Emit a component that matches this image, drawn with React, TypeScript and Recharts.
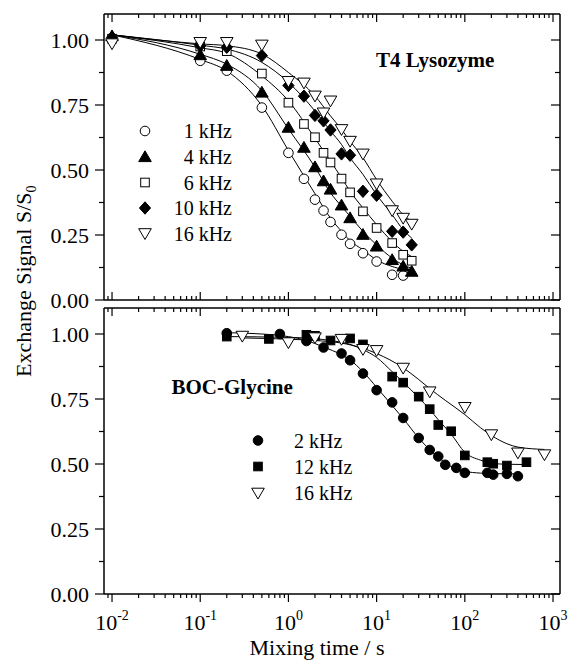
import React from 'react';
import { ComposedChart, Scatter, Line, XAxis, YAxis } from 'recharts';

const FONT = '"Liberation Serif", "Times New Roman", Times, serif';

// ---------- axis ranges & ticks ----------
const XMIN = 0.00811;
const XMAX = 1200;
const xDecades = [0.01, 0.1, 1, 10, 100, 1000];
const xDecadeExp = ['-2', '-1', '0', '1', '2', '3'];
const xMinorMult = [2, 3, 4, 5, 6, 7, 8, 9];
const xMinorBases = [0.001, 0.01, 0.1, 1, 10, 100];
const yMajor = [0, 0.25, 0.5, 0.75, 1.0];
const yMinor = [0.125, 0.375, 0.625, 0.875];
const yLabels = ['0.00', '0.25', '0.50', '0.75', '1.00'];

// ---------- T4 Lysozyme (top panel) ----------
const t4Time = [0.01, 0.1, 0.2, 0.5, 1, 1.5, 2, 2.5, 3, 4, 5, 7, 10, 15, 20, 25];
const t4_1k = [1.005, 0.92, 0.882, 0.74, 0.566, 0.466, 0.386, 0.344, 0.3, 0.251, 0.216, 0.18, 0.148, 0.097, 0.094, null];
const t4_4k = [1.015, 0.942, 0.901, 0.798, 0.663, 0.586, 0.511, 0.457, 0.425, 0.364, 0.315, 0.251, 0.206, 0.154, 0.129, 0.109];
const t4_6k = [1.005, 0.975, 0.957, 0.871, 0.759, 0.677, 0.626, 0.566, 0.529, 0.467, 0.414, 0.341, 0.277, 0.219, 0.174, 0.151];
const t4_10k = [1.01, 0.978, 0.972, 0.94, 0.825, 0.784, 0.71, 0.689, 0.654, 0.562, 0.557, 0.418, 0.403, 0.264, 0.261, 0.212];
const t4_16k = [0.986, 0.991, 0.991, 0.981, 0.841, 0.835, 0.785, 0.72, 0.766, 0.656, 0.611, 0.562, 0.447, 0.344, 0.315, 0.292];

const t4FitTime = [0.01, 0.1, 0.2, 0.5, 1, 2, 3, 4, 5, 7, 10, 15, 20, 25];
const t4Fit_1k = [1.02, 0.925, 0.881, 0.747, 0.575, 0.409, 0.315, 0.264, 0.228, 0.193, 0.154, 0.129, 0.118, 0.116];
const t4Fit_4k = [1.02, 0.945, 0.907, 0.805, 0.658, 0.511, 0.412, 0.36, 0.322, 0.264, 0.212, 0.161, 0.135, 0.122];
const t4Fit_6k = [1.02, 0.97, 0.949, 0.862, 0.766, 0.622, 0.534, 0.47, 0.418, 0.354, 0.29, 0.225, 0.187, 0.167];
const t4Fit_10k = [1.02, 0.98, 0.965, 0.914, 0.837, 0.727, 0.65, 0.598, 0.547, 0.483, 0.405, 0.328, 0.27, 0.238];
const t4Fit_16k = [1.02, 0.985, 0.978, 0.946, 0.875, 0.785, 0.708, 0.656, 0.611, 0.547, 0.463, 0.38, 0.328, 0.302];

// ---------- BOC-Glycine (bottom panel) ----------
const boc2kTime = [0.2, 0.8, 1.6, 2.5, 4, 5, 7, 10, 15, 20, 30, 40, 50, 60, 80, 100, 180, 210, 300, 400];
const boc2k = [1.003, 1.0, 0.973, 0.948, 0.925, 0.899, 0.848, 0.784, 0.737, 0.677, 0.6, 0.554, 0.529, 0.497, 0.485, 0.466, 0.466, 0.459, 0.462, 0.453];
const boc12kTime = [0.2, 0.6, 1.6, 2, 3, 5, 7, 15, 20, 30, 40, 50, 70, 100, 180, 210, 300, 500];
const boc12k = [0.99, 0.981, 0.997, 0.993, 0.975, 0.983, 0.96, 0.836, 0.813, 0.759, 0.711, 0.65, 0.626, 0.533, 0.507, 0.501, 0.494, 0.507];
const boc16kTime = [0.3, 1, 2, 4, 7, 10, 20, 40, 100, 200, 400, 800];
const boc16k = [0.992, 0.967, 0.986, 0.98, 0.941, 0.937, 0.869, 0.778, 0.718, 0.613, 0.543, 0.536];

const bocFit2kTime = [0.2, 0.5, 1, 1.6, 2.5, 4, 5, 7, 10, 15, 20, 30, 40, 50, 70, 100, 150, 200, 400];
const bocFit2k = [1.005, 1.0, 0.99, 0.975, 0.95, 0.92, 0.9, 0.855, 0.795, 0.725, 0.675, 0.6, 0.555, 0.525, 0.49, 0.472, 0.465, 0.463, 0.462];
const bocFit12kTime = [0.2, 1, 2, 3, 5, 7, 10, 15, 20, 30, 40, 50, 70, 100, 150, 200, 300, 500];
const bocFit12k = [0.99, 0.987, 0.982, 0.975, 0.96, 0.94, 0.91, 0.855, 0.815, 0.755, 0.71, 0.67, 0.615, 0.545, 0.515, 0.503, 0.499, 0.498];
const bocFit16kTime = [0.3, 1, 2, 4, 7, 10, 20, 30, 40, 60, 100, 150, 200, 300, 400, 800];
const bocFit16k = [0.985, 0.98, 0.975, 0.965, 0.945, 0.925, 0.87, 0.825, 0.79, 0.745, 0.69, 0.64, 0.61, 0.578, 0.565, 0.556];

const topLegend = ['1 kHz', '4 kHz', '6 kHz', '10 kHz', '16 kHz'];
const bottomLegend = ['2 kHz', '12 kHz', '16 kHz'];

// ---------- helpers ----------
const zip = (xs: number[], ys: (number | null)[]) =>
  xs.map((x, i) => ({ x, y: ys[i] })).filter((p) => p.y !== null && p.y !== undefined);

const xTicks = [
  ...xDecades,
  ...xMinorBases.flatMap((b) => xMinorMult.map((m) => +(b * m).toPrecision(3))),
]
  .filter((v) => v > XMIN && v < XMAX)
  .sort((a, b) => a - b);
const yTicks = [...yMajor, ...yMinor].sort((a, b) => a - b);

const isMajorX = (v: number) => xDecades.some((d) => Math.abs(d - v) / d < 1e-6);
const isMajorY = (v: number) => yMajor.some((d) => Math.abs(d - v) < 1e-6);

type Kind = 'circleOpen' | 'triUp' | 'squareOpen' | 'diamond' | 'triDownOpen' | 'circleFilled' | 'squareFilled';

const Marker = ({ kind, cx, cy }: { kind: Kind; cx: number; cy: number }) => {
  if (cx == null || cy == null || isNaN(cx) || isNaN(cy)) return null;
  const sw = 1;
  switch (kind) {
    case 'circleOpen':
      return <circle cx={cx} cy={cy} r={4.8} fill="#fff" stroke="#000" strokeWidth={sw} />;
    case 'circleFilled':
      return <circle cx={cx} cy={cy} r={4.8} fill="#000" stroke="#000" strokeWidth={sw} />;
    case 'triUp':
      return (
        <polygon
          points={`${cx},${cy - 6.2} ${cx - 6.3},${cy + 4.6} ${cx + 6.3},${cy + 4.6}`}
          fill="#000"
          stroke="#000"
          strokeWidth={sw}
        />
      );
    case 'triDownOpen':
      return (
        <polygon
          points={`${cx - 6.3},${cy - 4.8} ${cx + 6.3},${cy - 4.8} ${cx},${cy + 6}`}
          fill="#fff"
          stroke="#000"
          strokeWidth={sw}
        />
      );
    case 'squareOpen':
      return <rect x={cx - 4.3} y={cy - 4.3} width={8.6} height={8.6} fill="#fff" stroke="#000" strokeWidth={sw} />;
    case 'squareFilled':
      return <rect x={cx - 4.3} y={cy - 4.3} width={8.6} height={8.6} fill="#000" stroke="#000" strokeWidth={sw} />;
    case 'diamond':
      return (
        <polygon
          points={`${cx},${cy - 6.2} ${cx + 5.6},${cy} ${cx},${cy + 6.2} ${cx - 5.6},${cy}`}
          fill="#000"
          stroke="#000"
          strokeWidth={sw}
        />
      );
  }
  return null;
};

const shapeOf = (kind: Kind) => (p: any) => <Marker kind={kind} cx={p.cx} cy={p.cy} />;

// X ticks: dir = +1 draws downward, -1 upward
const XTick = (props: any) => {
  const { x, y, payload, dir, showLabel } = props;
  const v = payload?.value;
  const major = isMajorX(v);
  const len = major ? 8 : 4;
  const idx = xDecades.findIndex((d) => Math.abs(d - v) / d < 1e-6);
  return (
    <g>
      <line x1={x} x2={x} y1={y} y2={y + dir * len} stroke="#000" strokeWidth={1.2} />
      {showLabel && major && idx >= 0 && (
        <text x={x} y={330} textAnchor="middle" fontFamily={FONT} fontSize={22} fill="#000">
          10
          <tspan dy={-10} fontSize={14}>
            {xDecadeExp[idx]}
          </tspan>
        </text>
      )}
    </g>
  );
};

// Y ticks: dir = -1 draws leftward, +1 rightward
const YTick = (props: any) => {
  const { x, y, payload, dir, showLabel } = props;
  const v = payload?.value;
  const major = isMajorY(v);
  const len = major ? 9 : 5;
  const idx = yMajor.findIndex((d) => Math.abs(d - v) < 1e-6);
  return (
    <g>
      <line x1={x} x2={x + dir * len} y1={y} y2={y} stroke="#000" strokeWidth={1.2} />
      {showLabel && major && idx >= 0 && (
        <text x={x - 15} y={y + 7.5} textAnchor="end" fontFamily={FONT} fontSize={22} fill="#000">
          {yLabels[idx]}
        </text>
      )}
    </g>
  );
};

const axisLine = { stroke: '#000', strokeWidth: 1.5 };

function panelAxes(bottomDir: number, bottomLabel: boolean) {
  return [
    <XAxis
      key="xb"
      xAxisId="b"
      orientation="bottom"
      dataKey="x"
      type="number"
      scale="log"
      domain={[XMIN, XMAX]}
      allowDataOverflow
      ticks={xTicks}
      interval={0}
      height={1}
      tickSize={0}
      tickMargin={0}
      tickLine={false}
      axisLine={axisLine}
      tick={(p: any) => <XTick {...p} dir={bottomDir} showLabel={bottomLabel} />}
    />,
    <XAxis
      key="xt"
      xAxisId="t"
      orientation="top"
      dataKey="x"
      type="number"
      scale="log"
      domain={[XMIN, XMAX]}
      allowDataOverflow
      ticks={xTicks}
      interval={0}
      height={1}
      tickSize={0}
      tickMargin={0}
      tickLine={false}
      axisLine={axisLine}
      tick={(p: any) => <XTick {...p} dir={1} showLabel={false} />}
    />,
    <YAxis
      key="yl"
      yAxisId="l"
      orientation="left"
      dataKey="y"
      type="number"
      domain={[0, 1.1]}
      allowDataOverflow
      ticks={yTicks}
      interval={0}
      width={1}
      tickSize={0}
      tickMargin={0}
      tickLine={false}
      axisLine={axisLine}
      tick={(p: any) => <YTick {...p} dir={-1} showLabel={true} />}
    />,
    <YAxis
      key="yr"
      yAxisId="r"
      orientation="right"
      dataKey="y"
      type="number"
      domain={[0, 1.1]}
      allowDataOverflow
      ticks={yTicks}
      interval={0}
      width={1}
      tickSize={0}
      tickMargin={0}
      tickLine={false}
      axisLine={axisLine}
      tick={(p: any) => <YTick {...p} dir={-1} showLabel={false} />}
    />,
  ];
}

const fitLine = (key: string, data: { x: number; y: any }[]) => (
  <Line
    key={key}
    xAxisId="b"
    yAxisId="l"
    data={data}
    dataKey="y"
    type="monotone"
    dot={false}
    activeDot={false}
    stroke="#000"
    strokeWidth={1}
    isAnimationActive={false}
  />
);

const scatter = (key: string, data: { x: number; y: any }[], kind: Kind) => (
  <Scatter
    key={key}
    xAxisId="b"
    yAxisId="l"
    data={data}
    dataKey="y"
    shape={shapeOf(kind)}
    isAnimationActive={false}
  />
);

const topKinds: Kind[] = ['circleOpen', 'triUp', 'squareOpen', 'diamond', 'triDownOpen'];
const bottomKinds: Kind[] = ['circleFilled', 'squareFilled', 'triDownOpen'];

export default function App() {
  const topSeries = [t4_1k, t4_4k, t4_6k, t4_10k, t4_16k];
  const topFits = [t4Fit_1k, t4Fit_4k, t4Fit_6k, t4Fit_10k, t4Fit_16k];
  const botSeries = [zip(boc2kTime, boc2k), zip(boc12kTime, boc12k), zip(boc16kTime, boc16k)];
  const botFits = [zip(bocFit2kTime, bocFit2k), zip(bocFit12kTime, bocFit12k), zip(bocFit16kTime, bocFit16k)];

  const topLegendY = [131, 157, 182.5, 208, 233.5];
  const botLegendY = [440.5, 466.5, 493];

  return (
    <div
      style={{
        position: 'absolute',
        left: 0,
        top: 0,
        width: 568,
        height: 661,
        background: '#fff',
        overflow: 'hidden',
        fontFamily: FONT,
      }}
    >
      <div style={{ position: 'absolute', left: 0, top: 0 }}>
        <ComposedChart width={568} height={320} margin={{ top: 13, right: 7, bottom: 19, left: 103 }}>
          {panelAxes(-1, false)}
          {topFits.map((f, i) => fitLine('tf' + i, zip(t4FitTime, f)))}
          {topSeries.map((s, i) => scatter('ts' + i, zip(t4Time, s), topKinds[i]))}
        </ComposedChart>
      </div>
      <div style={{ position: 'absolute', left: 0, top: 300 }}>
        <ComposedChart width={568} height={361} margin={{ top: 7, right: 7, bottom: 66, left: 103 }}>
          {panelAxes(1, true)}
          {botFits.map((f, i) => fitLine('bf' + i, f))}
          {botSeries.map((s, i) => scatter('bs' + i, s, bottomKinds[i]))}
        </ComposedChart>
      </div>
      <svg
        width={568}
        height={661}
        style={{ position: 'absolute', left: 0, top: 0, pointerEvents: 'none' }}
      >
        <text
          x={31}
          y={377}
          transform="rotate(-90 31 377)"
          textAnchor="start"
          fontFamily={FONT}
          fontSize={22}
          fill="#000"
        >
          Exchange Signal S/S
          <tspan dy={5} fontSize={14}>
            0
          </tspan>
        </text>
        <text x={317} y={655} textAnchor="middle" fontFamily={FONT} fontSize={22} fill="#000">
          Mixing time / s
        </text>
        <text x={376} y={67} fontFamily={FONT} fontSize={21} fontWeight="bold" fill="#000">
          T4 Lysozyme
        </text>
        <text x={171.5} y={394} fontFamily={FONT} fontSize={21} fontWeight="bold" fill="#000">
          BOC-Glycine
        </text>
        {topLegend.map((lab, i) => (
          <g key={lab}>
            <Marker kind={topKinds[i]} cx={145} cy={topLegendY[i]} />
            <text x={232} y={topLegendY[i] + 7} textAnchor="end" fontFamily={FONT} fontSize={20} fill="#000">
              {lab}
            </text>
          </g>
        ))}
        {bottomLegend.map((lab, i) => (
          <g key={lab + 'b'}>
            <Marker kind={bottomKinds[i]} cx={258} cy={botLegendY[i]} />
            <text x={294} y={botLegendY[i] + 7} textAnchor="start" fontFamily={FONT} fontSize={20} fill="#000">
              {lab}
            </text>
          </g>
        ))}
      </svg>
    </div>
  );
}
